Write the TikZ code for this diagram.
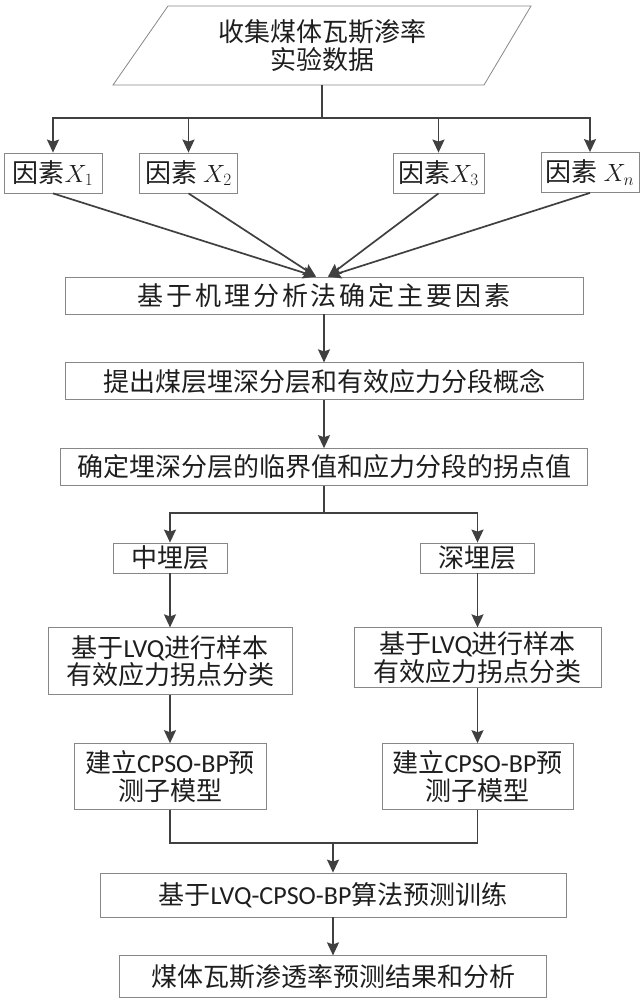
\documentclass[tikz,border=0pt]{standalone}
\usepackage{fontspec}
\setmainfont{Noto Sans CJK SC}
\newfontfamily\enfont{Carlito}
\newfontfamily\widefont{Noto Sans CJK SC}[LetterSpace=11]
\usepackage{tikz}
\usetikzlibrary{positioning,shapes.geometric,arrows.meta,calc}
\usepackage{xcolor}
\definecolor{LineGray}{RGB}{64,64,64}
\definecolor{BoxGray}{RGB}{135,135,135}
\definecolor{TextBlack}{RGB}{30,30,30}

\begin{document}
\begin{tikzpicture}[
  x=1pt, y=1pt,
  every node/.style={font=\fontsize{26}{27.5}\selectfont, text=TextBlack},
  srcbox/.style={minimum width=366pt, minimum height=79pt, align=center, inner sep=0pt},
  outline/.style={draw=BoxGray, line width=0.8pt},
  factorbox/.style={outline, minimum width=98pt, minimum height=40pt, inner sep=2pt},
  stepbox/.style={outline, align=center, minimum height=37pt, inner sep=2pt},
  layerbox/.style={outline, minimum width=114pt, minimum height=30pt, inner sep=0pt},
  conn/.style={draw=LineGray, line width=1.7pt},
  arrow/.style={conn, -{Stealth[length=13pt, width=12pt, inset=2pt]}}
]
\useasboundingbox (0,0) rectangle (643,-1000);

% Source data (parallelogram)
\node[srcbox] (src) at (322,-45.5) {收集煤体瓦斯渗率\\实验数据};
\draw[outline] ($(src.center)+(-209,-39.5)$) -- ($(src.center)+(162,-39.5)$)
  -- ($(src.center)+(209,39.5)$) -- ($(src.center)+(-154,39.5)$) -- cycle;
\coordinate (branch) at (322,-118);

% Influence factors
\node[factorbox] (f1) at (53,-173) {因素$X_1$};
\node[factorbox] (f2) at (188.5,-173) {因素 $X_2$};
\node[factorbox, minimum width=91pt] (f3) at (438.5,-173) {因素$X_3$};
\node[factorbox] (fn) at (590,-172.5) {因素 $X_n$};

% Main column
\node[stepbox, minimum width=518pt] (fa) at (324,-295.5) {\widefont 基于机理分析法确定主要因素};
\node[stepbox, minimum width=518pt, below=48pt of fa] (fb) {提出煤层埋深分层和有效应力分段概念};
\node[stepbox, minimum width=527pt, below=48pt of fb] (fc) {确定埋深分层的临界值和应力分段的拐点值};
\coordinate[below=27pt of fc] (split);

% Burial layers
\node[layerbox] (mid) at (170,-558) {中埋层};
\node[layerbox] (deep) at (477.5,-558) {深埋层};
\node[stepbox, minimum width=244pt, minimum height=67pt, below=54pt of mid] (lvq1) {基于{\enfont LVQ}进行样本\\有效应力拐点分类};
\node[stepbox, minimum width=247pt, minimum height=60pt, below=54pt of deep] (lvq2) {基于{\enfont LVQ}进行样本\\有效应力拐点分类};
\node[stepbox, minimum width=192pt, minimum height=66pt, below=48pt of lvq1] (cp1) {建立{\enfont CPSO-BP}预\\测子模型};
\node[stepbox, minimum width=191pt, minimum height=66pt, below=55pt of lvq2] (cp2) {建立{\enfont CPSO-BP}预\\测子模型};
\coordinate (merge) at (333,-843);

% Training and result
\node[stepbox, minimum width=466pt, minimum height=44pt] (train) at (333,-895) {基于{\enfont LVQ-CPSO-BP}算法预测训练};
\node[stepbox, minimum width=427pt, minimum height=42pt, below=38pt of train] (result) {煤体瓦斯渗透率预测结果和分析};

% Connectors
\draw[conn] (src.south) -- (branch);
\draw[arrow] (branch) -| (f1);
\draw[arrow] (branch) -| (f2);
\draw[arrow] (branch) -| (f3);
\draw[arrow] (branch) -| (fn);
\draw[arrow] (f1.south) -- ([xshift=-8pt]fa.north);
\draw[arrow] (f2.south) -- ([xshift=-8pt]fa.north);
\draw[arrow] (f3.south) -- ([xshift=4pt]fa.north);
\draw[arrow] (fn.south) -- ([xshift=4pt]fa.north);
\draw[arrow] (fa) -- (fb);
\draw[arrow] (fb) -- (fc);
\draw[conn] (fc) -- (split);
\draw[arrow] (split) -| (mid);
\draw[arrow] (split) -| (deep);
\draw[arrow] (mid) -- (lvq1);
\draw[arrow] (deep) -- (lvq2);
\draw[arrow] (lvq1) -- (cp1);
\draw[arrow] (lvq2) -- (cp2);
\draw[conn] (cp1) |- (merge) -| (cp2);
\draw[arrow] (merge) -- (train);
\draw[arrow] (train) -- (result);
\end{tikzpicture}
\end{document}
